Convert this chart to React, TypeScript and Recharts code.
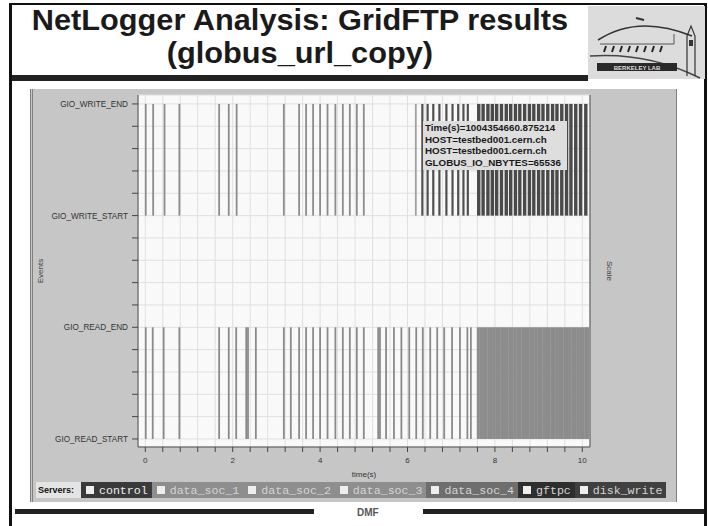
import React from 'react'
import { ComposedChart, Line, XAxis, YAxis, CartesianGrid } from 'recharts'

// event levels on the y axis
const eventLevels: Record<number, string> = {
  0: 'GIO_READ_START',
  5: 'GIO_READ_END',
  10: 'GIO_WRITE_START',
  15: 'GIO_WRITE_END',
}
const yTicks = [0, 1, 2, 3, 4, 5, 6, 7, 8, 9, 10, 11, 12, 13, 14, 15]
const xTicks = [
  0, 0.4, 0.8, 1.2, 1.6, 2, 2.4, 2.8, 3.2, 3.6, 4, 4.4, 4.8, 5.2, 5.6, 6, 6.4, 6.8, 7.2, 7.6, 8, 8.4, 8.8, 9.2, 9.6, 10,
]

// time(s) of each event
const writeEarly = [0.01, 0.18, 0.44, 0.78, 1.69, 1.91, 2.09, 3.17, 3.52, 3.68, 3.84, 4.0, 4.17, 4.35, 4.52, 4.68, 4.84, 5.0]
const writeMid = [6.34, 6.46, 6.59, 6.73, 6.89, 7.03, 7.16, 7.28, 7.38]
const writeDense = [
  7.63, 7.73, 7.84, 7.94, 8.04, 8.15, 8.26, 8.36, 8.47, 8.57, 8.68, 8.79, 8.89, 9.0, 9.1, 9.21, 9.32, 9.42, 9.53,
  9.64, 9.74, 9.85, 9.96, 10.08,
]
const readEarly = [
  0.01, 0.17, 0.42, 0.78, 1.69, 1.91, 2.08, 2.31, 2.35, 2.53, 3.17, 3.33, 3.52, 3.68, 3.84, 4.0, 4.17, 4.35, 4.52,
  4.68, 4.84, 5.0, 5.33, 5.37, 5.51, 5.69, 5.86, 6.04, 6.2, 6.35, 6.52, 6.68, 6.84, 7.02, 7.2, 7.37, 7.45,
]
const readDense = [
  7.62, 7.68, 7.74, 7.8, 7.86, 7.92, 7.98, 8.04, 8.1, 8.16, 8.22, 8.28, 8.34, 8.4, 8.46, 8.52, 8.58, 8.64, 8.7,
  8.76, 8.82, 8.88, 8.94, 9.0, 9.06, 9.12, 9.18, 9.24, 9.3, 9.36, 9.42, 9.48, 9.54, 9.6, 9.66, 9.72, 9.78, 9.84,
  9.9, 9.96, 10.02, 10.08, 10.12,
]

const servers = ['control', 'data_soc_1', 'data_soc_2', 'data_soc_3', 'data_soc_4', 'gftpc', 'disk_write']
const serverColors = ['#3a3a3a', '#8e8e8e', '#8e8e8e', '#8e8e8e', '#6e6e6e', '#2e2e2e', '#404040']

const tooltipLines = [
  'Time(s)=1004354660.875214',
  'HOST=testbed001.cern.ch',
  'HOST=testbed001.cern.ch',
  'GLOBUS_IO_NBYTES=65536',
]

interface Ev {
  t: number
  from: number
  to: number
  color: string
  width: number
}

const events: Ev[] = [
  ...readEarly.map((t) => ({ t, from: 0, to: 5, color: '#8a8a8a', width: 1.8 })),
  ...readDense.map((t) => ({ t, from: 0, to: 5, color: '#8c8c8c', width: 3 })),
  ...writeEarly.map((t) => ({ t, from: 10, to: 15, color: '#8c8c8c', width: 1.8 })),
  { t: 6.19, from: 10, to: 15, color: '#a0a0a0', width: 1.8 },
  ...writeMid.map((t) => ({ t, from: 10, to: 15, color: '#505050', width: 2.2 })),
  ...writeDense.map((t) => ({ t, from: 10, to: 15, color: '#4a4a4a', width: 3.4 })),
]

const sans = '"Liberation Sans", Arial, sans-serif'
const mono = '"Liberation Mono", monospace'

function Logo() {
  return (
    <svg width={117} height={73} style={{ position: 'absolute', left: 588, top: 6 }}>
      <rect x={0} y={0} width={117} height={73} fill="#dcdcdc" />
      <path d="M10 34 Q 50 8 104 30" stroke="#333" strokeWidth={1.5} fill="none" />
      <path d="M48 12 L 56 14" stroke="#333" strokeWidth={2} />
      <path d="M12 38 L 86 38 L 86 28" stroke="#555" strokeWidth={1} fill="none" />
      {[16, 24, 32, 40, 48, 56, 64, 72].map((x) => (
        <path key={x} d={`M${x + 2} 40 L ${x} 46`} stroke="#222" strokeWidth={2} />
      ))}
      <path d="M2 50 Q 60 46 112 72" stroke="#444" strokeWidth={1.5} fill="none" />
      <path d="M99 70 L 99 30 L 103 20 L 107 30 L 107 70" stroke="#333" strokeWidth={1.2} fill="none" />
      <rect x={101} y={34} width={4} height={6} fill="#333" />
      <rect x={9} y={57} width={80} height={8} fill="#2a2a2a" />
      <text x={49} y={63.5} fontSize={6} fontFamily={sans} fontWeight="bold" fill="#ddd" textAnchor="middle">
        BERKELEY LAB
      </text>
    </svg>
  )
}

const titleStyle: React.CSSProperties = {
  position: 'absolute',
  left: 12,
  width: 576,
  textAlign: 'center',
  fontSize: 29,
  lineHeight: '30px',
  fontWeight: 'bold',
  color: '#1a1a1a',
  whiteSpace: 'nowrap',
  transform: 'scaleX(1.06)',
  transformOrigin: '290px 0',
}

export default function App() {
  return (
    <div
      style={{
        position: 'absolute',
        left: 0,
        top: 0,
        width: 708,
        height: 526,
        background: '#fff',
        fontFamily: sans,
        overflow: 'hidden',
      }}
    >
      {/* slide frame */}
      <div style={{ position: 'absolute', left: 9, top: 3, width: 3, height: 523, background: '#111' }} />
      <div style={{ position: 'absolute', left: 9, top: 3, width: 698, height: 2, background: '#111' }} />
      <div style={{ position: 'absolute', left: 704, top: 3, width: 3, height: 523, background: '#111' }} />

      {/* title */}
      <div style={{ ...titleStyle, top: 5 }}>NetLogger Analysis: GridFTP results</div>
      <div style={{ ...titleStyle, top: 38 }}>(globus_url_copy)</div>
      <div style={{ position: 'absolute', left: 12, top: 75, width: 576, height: 6, background: '#222' }} />
      <Logo />

      {/* chart panel */}
      <div
        style={{
          position: 'absolute',
          left: 30,
          top: 89,
          width: 643,
          height: 413,
          background: '#c6c6c6',
          borderLeft: '3px double #808080',
          borderRight: '1px solid #808080',
        }}
      />
      <div style={{ position: 'absolute', left: 30, top: 91 }}>
        <ComposedChart width={646} height={390} margin={{ top: 4, right: 46, bottom: 4, left: 8 }}>
          <CartesianGrid fill="#f9f9f9" stroke="#e0e0e0" />
          <XAxis
            type="number"
            dataKey="t"
            domain={[-0.167, 10.176]}
            ticks={xTicks}
            interval={0}
            allowDataOverflow
            height={30}
            tickSize={5}
            tickMargin={5}
            stroke="#444"
            tick={{ fontSize: 8, fill: '#333', fontFamily: sans }}
            tickFormatter={(v: number) => (Number.isInteger(v) && v % 2 === 0 ? String(v) : '')}
            label={{ value: 'time(s)', position: 'insideBottom', offset: 0, fontSize: 8, fill: '#333' }}
          />
          <YAxis
            type="number"
            domain={[-0.36, 15.4]}
            ticks={yTicks}
            interval={0}
            allowDataOverflow
            width={100}
            tickSize={6}
            tickMargin={4}
            stroke="#444"
            tick={{ fontSize: 8.2, fill: '#333', fontFamily: sans }}
            tickFormatter={(v: number) => eventLevels[v] ?? ''}
            label={{
              value: 'Events',
              angle: -90,
              position: 'insideLeft',
              offset: 2,
              fontSize: 8,
              fill: '#444',
              style: { textAnchor: 'middle' },
            }}
          />
          <YAxis
            yAxisId="right"
            orientation="right"
            type="number"
            domain={[-0.36, 15.4]}
            ticks={yTicks}
            interval={0}
            allowDataOverflow
            width={40}
            tickSize={5}
            stroke="#444"
            tick={false}
            label={{ value: 'Scale', angle: 90, position: 'center', fontSize: 8, fill: '#444' }}
          />
          {events.map((e, i) => (
            <Line
              key={`ev-${i}`}
              data={[
                { t: e.t, y: e.from },
                { t: e.t, y: e.to },
              ]}
              dataKey="y"
              stroke={e.color}
              strokeWidth={e.width}
              dot={false}
              activeDot={false}
              isAnimationActive={false}
            />
          ))}
        </ComposedChart>
      </div>

      {/* selected event info */}
      <div
        style={{
          position: 'absolute',
          left: 423,
          top: 121,
          width: 142,
          height: 48,
          padding: '1px 0 0 2px',
          background: '#dedede',
          fontSize: 9.8,
          lineHeight: '11.6px',
          fontWeight: 'bold',
          color: '#1a1a1a',
          whiteSpace: 'nowrap',
        }}
      >
        {tooltipLines.map((l, i) => (
          <div key={i}>{l}</div>
        ))}
      </div>

      {/* servers legend */}
      <div style={{ position: 'absolute', left: 36, top: 482, height: 16, display: 'flex' }}>
        <div
          style={{
            background: '#e4e4e4',
            fontSize: 9,
            fontWeight: 'bold',
            lineHeight: '16px',
            padding: '0 2px',
            width: 41,
            color: '#111',
          }}
        >
          Servers:
        </div>
        {servers.map((s, i) => (
          <div
            key={s}
            style={{
              background: serverColors[i],
              display: 'flex',
              alignItems: 'center',
              padding: '0 4px 0 5px',
              height: 16,
            }}
          >
            <div style={{ width: 8, height: 8, background: '#eee', marginRight: 5 }} />
            <span style={{ fontFamily: mono, fontSize: 11.6, color: i === 0 ? '#eee' : '#d4d4d4' }}>{s}</span>
          </div>
        ))}
      </div>

      {/* footer */}
      <div style={{ position: 'absolute', left: 15, top: 509, width: 299, height: 5, background: '#222' }} />
      <div style={{ position: 'absolute', left: 423, top: 509, width: 281, height: 5, background: '#222' }} />
      <div
        style={{ position: 'absolute', left: 357, top: 507, fontSize: 10, fontWeight: 'bold', color: '#555' }}
      >
        DMF
      </div>
    </div>
  )
}
